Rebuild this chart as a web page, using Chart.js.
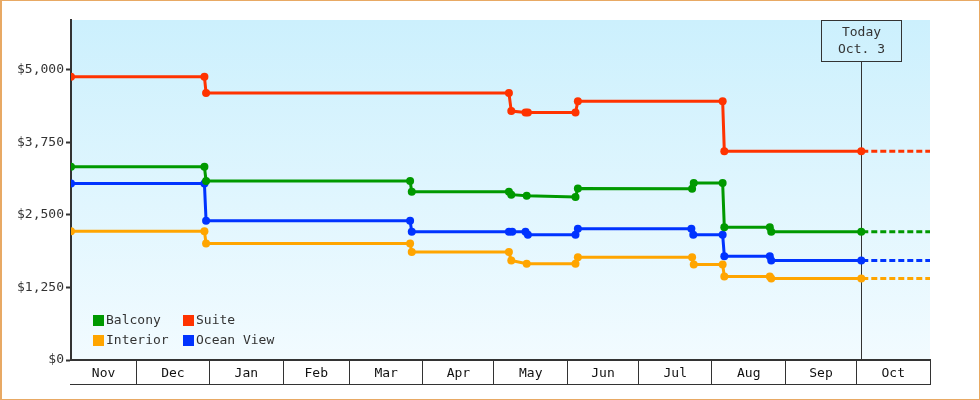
<!DOCTYPE html>
<html>
<head>
<meta charset="utf-8">
<title>Cabin fares</title>
<script src="https://cdn.jsdelivr.net/npm/chart.js@4/dist/chart.umd.min.js"></script>
<style>
  html, body { margin: 0; padding: 0; background: #fff; }
  #wrap { position: relative; width: 980px; height: 400px; }
  #frame {
    position: absolute; left: 0; top: 0; width: 980px; height: 400px;
    box-sizing: border-box; border: 1px solid #e8a964; border-left-width: 2px;
    pointer-events: none;
  }
</style>
</head>
<body>
<div id="wrap">
  <canvas id="fares" width="980" height="400"></canvas>
  <div id="frame"></div>
</div>
<script>
// x values are days counted from Nov 1
const months = ['Nov', 'Dec', 'Jan', 'Feb', 'Mar', 'Apr', 'May', 'Jun', 'Jul', 'Aug', 'Sep', 'Oct'];
const monthStarts = [0, 30, 61, 92, 120, 151, 181, 212, 242, 273, 304, 334, 365];
const rangeStart = 2.5;
const rangeEnd = 365;
const today = 336; // Oct. 3
const todayText = ['Today', 'Oct. 3'];
const yTicks = [0, 1250, 2500, 3750, 5000];
const yMax = 5860;

const balconyDays  = [2.5, 58.8, 59.5, 145.6, 146.3, 187.3, 188.3, 194.8, 215.4, 216.4, 264.6, 265.3, 277.5, 278.2, 297.4, 298, 336];
const balconyFares = [3330, 3330, 3085, 3085, 2900, 2900, 2850, 2830, 2810, 2955, 2950, 3050, 3050, 2290, 2290, 2210, 2210];

const suiteDays  = [2.5, 58.8, 59.5, 187.3, 188.3, 194.3, 195.3, 215.4, 216.4, 277.5, 278.2, 336];
const suiteFares = [4880, 4880, 4600, 4600, 4290, 4265, 4265, 4265, 4460, 4460, 3600, 3600];

const interiorDays  = [2.5, 58.8, 59.5, 145.6, 146.3, 187.3, 188.3, 194.8, 215.4, 216.4, 264.6, 265.3, 277.5, 278.2, 297.4, 298, 336];
const interiorFares = [2220, 2220, 2010, 2010, 1860, 1860, 1715, 1660, 1660, 1770, 1770, 1645, 1645, 1440, 1440, 1405, 1405];

const oceanDays  = [2.5, 58.8, 59.5, 145.6, 146.3, 187.3, 188.7, 194.3, 195.3, 215.4, 216.4, 264.3, 265.1, 277.5, 278.2, 297.4, 298, 336];
const oceanFares = [3040, 3040, 2400, 2400, 2210, 2210, 2210, 2210, 2160, 2160, 2260, 2260, 2160, 2160, 1790, 1790, 1715, 1715];

const series = [
  { label: 'Balcony', days: balconyDays, fares: balconyFares, color: '#009900' },
  { label: 'Suite', days: suiteDays, fares: suiteFares, color: '#ff3300' },
  { label: 'Interior', days: interiorDays, fares: interiorFares, color: '#ffa500' },
  { label: 'Ocean View', days: oceanDays, fares: oceanFares, color: '#0033ff' }
];

const FONT = 'DejaVu Sans Mono';
const INK = '#333';

// month boundaries get a separator, month middles get the name
const boundaries = new Set(monthStarts.filter(d => d > rangeStart));
const monthMids = new Map();
months.forEach((m, i) => {
  const from = Math.max(monthStarts[i], rangeStart);
  monthMids.set((from + monthStarts[i + 1]) / 2, m);
});

const datasets = [];
series.forEach(s => {
  datasets.push({
    label: s.label,
    data: s.days.map((d, i) => ({ x: d, y: s.fares[i] })),
    borderColor: s.color,
    backgroundColor: s.color,
    pointBackgroundColor: s.color,
    pointBorderWidth: 0,
    pointRadius: 4,
    borderWidth: 3,
    tension: 0
  });
});
// projection past today
series.forEach(s => {
  const last = s.fares[s.fares.length - 1];
  datasets.push({
    label: s.label + ' (projected)',
    data: [{ x: today, y: last }, { x: rangeEnd, y: last }],
    borderColor: s.color,
    borderWidth: 3,
    borderDash: [6, 3],
    borderDashOffset: 8,
    pointRadius: 0,
    tension: 0
  });
});

const plotBackground = {
  id: 'plotBackground',
  beforeDraw(chart) {
    const { ctx, chartArea: a } = chart;
    const g = ctx.createLinearGradient(0, a.top, 0, a.bottom);
    g.addColorStop(0, '#ccf0fd');
    g.addColorStop(1, '#f2fbff');
    ctx.save();
    ctx.fillStyle = g;
    ctx.fillRect(a.left, a.top, a.right - a.left, a.bottom - a.top);
    ctx.restore();
  }
};

const todayMarker = {
  id: 'todayMarker',
  beforeDatasetsDraw(chart) {
    const { ctx, chartArea: a } = chart;
    const x = Math.round(chart.scales.x.getPixelForValue(today)) + 0.5;
    const boxW = 80, boxH = 41;
    ctx.save();
    ctx.strokeStyle = INK;
    ctx.lineWidth = 1;
    ctx.beginPath();
    ctx.moveTo(x, a.top + boxH);
    ctx.lineTo(x, a.bottom);
    ctx.stroke();
    ctx.strokeRect(x - boxW / 2, a.top + 0.5, boxW, boxH);
    ctx.fillStyle = INK;
    ctx.font = '13px ' + FONT;
    ctx.textAlign = 'center';
    ctx.textBaseline = 'middle';
    ctx.fillText(todayText[0], x, a.top + 13);
    ctx.fillText(todayText[1], x, a.top + 30);
    ctx.restore();
  }
};

const boxRow = {
  id: 'boxRow',
  afterDraw(chart) {
    const { ctx, chartArea: a } = chart;
    const y = Math.round(chart.scales.x.bottom) - 0.5;
    ctx.save();
    ctx.strokeStyle = INK;
    ctx.lineWidth = 1;
    ctx.beginPath();
    ctx.moveTo(a.left - 1, y);
    ctx.lineTo(a.right, y);
    ctx.stroke();
    ctx.restore();
  }
};

const cornerLegend = {
  id: 'cornerLegend',
  afterDraw(chart) {
    const { ctx, chartArea: a } = chart;
    const colX = [a.left + 22, a.left + 112];
    const rowY = [a.bottom - 45, a.bottom - 25];
    ctx.save();
    ctx.font = '13px ' + FONT;
    ctx.textBaseline = 'middle';
    ctx.textAlign = 'left';
    series.forEach((s, i) => {
      const x = colX[i % 2], y = rowY[Math.floor(i / 2)];
      ctx.fillStyle = s.color;
      ctx.fillRect(x, y, 11, 11);
      ctx.fillStyle = INK;
      ctx.fillText(s.label, x + 13, y + 6);
    });
    ctx.restore();
  }
};

new Chart(document.getElementById('fares'), {
  type: 'line',
  data: { datasets },
  plugins: [plotBackground, todayMarker, boxRow, cornerLegend],
  options: {
    responsive: false,
    animation: false,
    layout: { padding: { left: 0, right: 50, top: 20, bottom: 15 } },
    plugins: {
      legend: { display: false },
      tooltip: { enabled: false }
    },
    scales: {
      x: {
        type: 'linear',
        min: rangeStart,
        max: rangeEnd,
        afterBuildTicks(scale) {
          const vals = [...boundaries, ...monthMids.keys()].sort((p, q) => p - q);
          scale.ticks = vals.map(v => ({ value: v }));
        },
        afterFit(scale) { scale.height = 25; },
        border: { display: true, color: INK, width: 2 },
        grid: {
          drawOnChartArea: false,
          tickLength: 25,
          lineWidth: 1,
          color: c => (c.tick && boundaries.has(c.tick.value)) ? INK : 'rgba(0,0,0,0)'
        },
        ticks: {
          autoSkip: false,
          maxRotation: 0,
          padding: -19,
          color: '#111',
          font: { family: FONT, size: 13 },
          callback: v => monthMids.get(v) || ''
        }
      },
      y: {
        min: 0,
        max: yMax,
        afterBuildTicks(scale) {
          scale.ticks = yTicks.map(v => ({ value: v }));
        },
        afterFit(scale) { scale.width = 71; },
        border: { display: true, color: INK, width: 2 },
        grid: {
          drawOnChartArea: false,
          tickLength: 5,
          tickWidth: 2,
          color: INK
        },
        ticks: {
          padding: 2,
          color: INK,
          font: { family: FONT, size: 13 },
          callback: v => '$' + v.toLocaleString('en-US')
        }
      }
    }
  }
});
</script>
</body>
</html>
